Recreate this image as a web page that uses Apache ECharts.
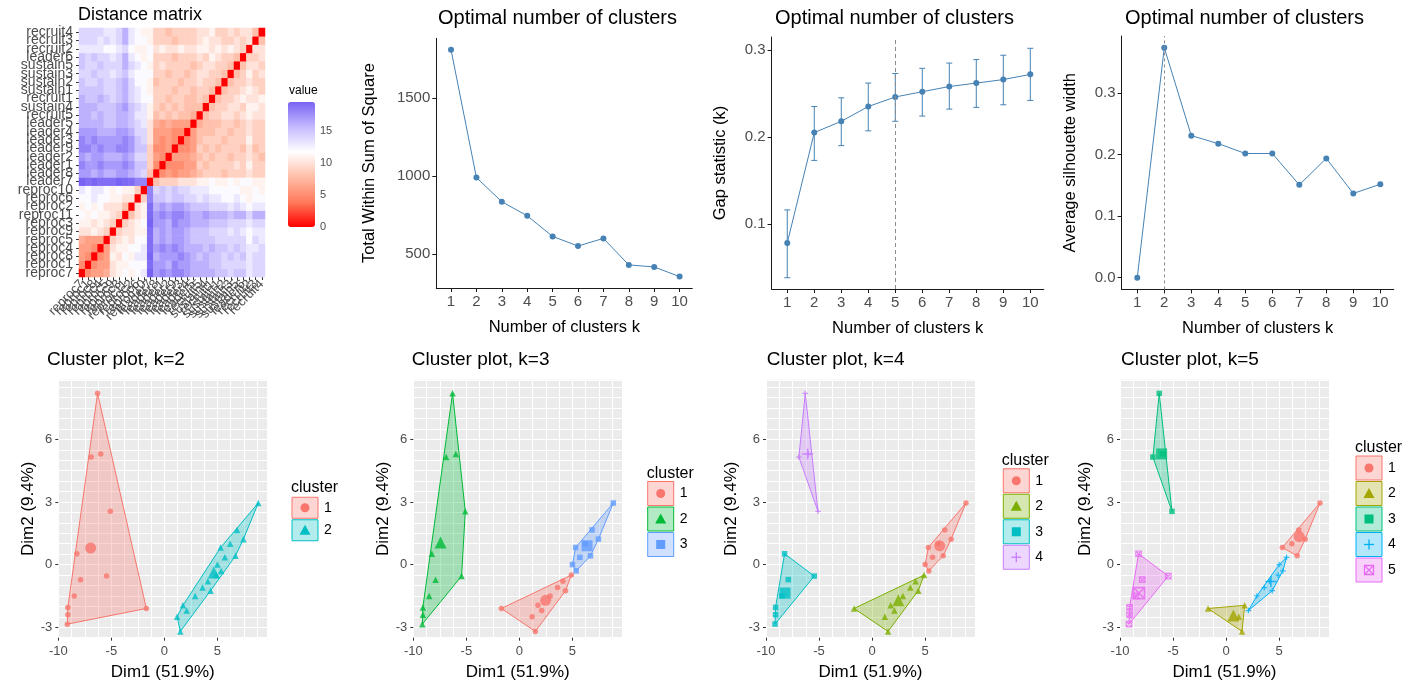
<!DOCTYPE html>
<html>
<head>
<meta charset="utf-8">
<script src="https://cdn.jsdelivr.net/npm/echarts@6.0.0/dist/echarts.min.js"></script>
<style>
html,body{margin:0;padding:0;background:#ffffff;}
#chart{width:1411px;height:689px;}
</style>
</head>
<body>
<div id="chart"></div>
<script>
// ================= DATA =================
// Distance matrix (index 0 = bottom row / left column)
const distLabels = ['reproc7','reproc1','reproc8','reproc4','reproc5','reproc9','reproc3','reproc11','reproc2','reproc6','reproc10',
  'leader7','leader8','leader1','leader2','leader9','leader3','leader4','leader5',
  'recruit5','sustain4','recruit1','sustain1','sustain2','sustain3','sustain5','leader6','recruit2','recruit3','recruit4'];
// lower triangle: row i holds distances to items 0..i-1
const distLower = [
 [],
 [5],
 [6,5],
 [6,6,5],
 [7,6,6,6],
 [10,10,11,10,9],
 [11,11,10,11,10,9],
 [12,11,12,11,11,10,9],
 [11,12,11,12,10,10,10,8],
 [12,12,13,12,12,11,11,10,10],
 [13,12,13,13,12,11,12,11,11,9],
 [19.5,19,19.4,19,19,19,19.5,19.2,19,18,18],
 [17,17,16,17,16,16,17,17,16,15,14, 8],
 [18,17,17,18,17,17,17,18,17,15,15, 9,5],
 [17,16,17,17,16,16,16,17,16,14,14, 9,6,5],
 [18,18,17,18,17,17,18,18,17,15,15, 9,5,5,6],
 [18,17,18,17,17,17,17,18,17,15,14, 10,6,5,6,5],
 [17,17,17,16,16,16,17,17,16,14,14, 10,6,6,6,5,5],
 [16,16,16,16,15,15,16,16,15,14,13, 10,7,6,7,6,6,6],
 [16,16,15,16,15,15,16,16,15,13,13, 11, 8,9,8,9,8,8,7],
 [16,16,16,15,15,15,16,17,15,14,13, 11, 9,8,9,8,9,8,8, 8],
 [16,15,15,16,15,14,15,16,14,13,12, 12, 9,9,8,9,9,8,8, 9,8],
 [15,15,15,15,14,14,15,16,14,13,12, 11, 9,9,9,8,9,9,8, 9,9,8],
 [15,14,14,15,14,14,15,16,14,12,12, 11, 8,9,9,9,8,9,9, 10,9,9,8],
 [14,14,15,14,14,13,14,15,13,12,12, 12, 9,9,8,9,9,8,9, 10,10,9,9,8],
 [15,14,14,15,14,14,14,16,14,13,12, 11, 9,10,9,9,9,9,8, 9,10,10,9,9,8],
 [15,14,15,14,14,13,14,16,13,12,11, 12, 9,9,9,8,9,9,9, 10,9,11,10,9,9,8],
 [13,13,13,13,12,12,13,14,12,11,11, 12, 10,11,10,10,11,10,10, 11,11,10,11,10,11,10,9],
 [14,14,14,13,14,13,14,16,13,12,12, 11, 9,9,9,8,9,9,9, 10,11,10,10,9,9,10,9,10],
 [14,14,14,14,13,13,14,16,13,12,11, 11, 9,9,8,9,9,9,9, 10,10,11,9,9,10,9,10,10,8]
];
const distScaleMax = 19.5;
const distLegendBreaks = [0, 5, 10, 15];

// Optimal number of clusters
const kValues = [1,2,3,4,5,6,7,8,9,10];
const wss = [1810, 990, 835, 745, 613, 551, 600, 430, 417, 355];
const wssTicks = [500, 1000, 1500];
const gapStat  = [0.078, 0.205, 0.218, 0.235, 0.246, 0.252, 0.258, 0.262, 0.266, 0.272];
const gapLower = [0.038, 0.173, 0.190, 0.207, 0.218, 0.224, 0.232, 0.234, 0.237, 0.242];
const gapUpper = [0.116, 0.235, 0.245, 0.262, 0.273, 0.279, 0.285, 0.289, 0.294, 0.302];
const gapTicks = [0.1, 0.2, 0.3];
const gapOptimalK = 5;
const silWidth = [0.000, 0.374, 0.231, 0.218, 0.202, 0.202, 0.151, 0.194, 0.137, 0.152];
const silTicks = [0.0, 0.1, 0.2, 0.3];
const silOptimalK = 2;

// PCA coordinates of the observations
const pcDim1 = [-6.3,-6.9,-6.0,-5.1,-8.25,-5.45,-7.9,-8.5,-9.1,-9.1,-9.15,-1.7,
  8.85,6.85,7.45,5.3,6.7,6.2,5.35,4.9,4.35,2.9,1.75,1.5,5.7,5.0,3.6,2.1,1.2,4.1];
const pcDim2 = [8.2,5.15,5.3,2.55,0.52,-0.55,-0.72,-1.5,-2.05,-2.4,-2.85,-2.1,
  2.95,1.66,1.22,0.82,0.42,1.0,-0.3,-0.5,-1.25,-1.5,-1.95,-3.2,0.35,0.0,-1.1,-2.2,-2.5,-0.8];
const clusterK2 = [1,1,1,1,1,1,1,1,1,1,1,1, 2,2,2,2,2,2,2,2,2,2,2,2,2,2,2,2,2,2];
const clusterK3 = [2,2,2,2,2,2,2,2,2,2,2,1, 3,3,3,3,3,3,3,1,1,1,1,1,3,3,1,1,1,1];
const clusterK4 = [4,4,4,4,3,3,3,3,3,3,3,2, 1,1,1,1,1,1,1,2,2,2,2,2,1,1,2,2,2,2];
const clusterK5 = [3,3,3,3,5,5,5,5,5,5,5,2, 1,1,1,1,1,1,4,4,4,4,2,2,4,4,4,4,2,4];
const dimTicksX = [-10, -5, 0, 5];
const dimTicksY = [-3, 0, 3, 6];

// ================= STYLE =================
const FONT = '"Liberation Sans", Arial, Helvetica, sans-serif';
const TXT = '#4D4D4D';
const AXC = '#1a1a1a';
const STEEL = '#4682B4';
const distColorStops = ['#FF0000','#FF7B5C','#FFBDA7','#FFFFFF','#C5BAFF','#7763F3'];
const palettes = {
  2: ['#F8766D','#00BFC4'],
  3: ['#F8766D','#00BA38','#619CFF'],
  4: ['#F8766D','#7CAE00','#00BFC4','#C77CFF'],
  5: ['#F8766D','#A3A500','#00BF7D','#00B0F6','#E76BF3']
};
const shapeSymbols = {1:'circle', 2:'triangle', 3:'rect', 4:'path://M5,0L5,10M0,5L10,5', 5:'path://M0,0L10,0L10,10L0,10ZM0,0L10,10M10,0L0,10'};

function rgba(hex, a) {
  const n = parseInt(hex.slice(1), 16);
  return 'rgba(' + ((n >> 16) & 255) + ',' + ((n >> 8) & 255) + ',' + (n & 255) + ',' + a + ')';
}

const option = {
  animation: false,
  backgroundColor: '#ffffff',
  textStyle: { fontFamily: FONT },
  title: [], grid: [], xAxis: [], yAxis: [], series: [], graphic: [], visualMap: []
};

function addTitle(text, left, top, size) {
  option.title.push({ text, left, top, padding: 0,
    textStyle: { fontSize: size, fontWeight: 'normal', color: '#000', fontFamily: FONT } });
}

// ================= DISTANCE MATRIX =================
addTitle('Distance matrix', 78, 6, 18);
option.grid.push({ left: 79, top: 28, width: 186, height: 249 });
option.xAxis.push({ gridIndex: 0, type: 'category', data: distLabels,
  axisLine: { show: false }, axisTick: { show: true, length: 3, alignWithLabel: true, lineStyle: { color: '#333' } },
  axisLabel: { interval: 0, rotate: 45, fontSize: 13, color: TXT, margin: 5, fontFamily: FONT },
  splitLine: { show: false } });
option.yAxis.push({ gridIndex: 0, type: 'category', data: distLabels,
  axisLine: { show: false }, axisTick: { show: true, length: 3, alignWithLabel: true, lineStyle: { color: '#333' } },
  axisLabel: { interval: 0, fontSize: 14, color: TXT, margin: 6, fontFamily: FONT },
  splitLine: { show: false } });
const heatData = [];
for (let i = 0; i < distLabels.length; i++) {
  for (let j = 0; j < distLabels.length; j++) {
    const v = i === j ? 0 : (j < i ? distLower[i][j] : distLower[j][i]);
    heatData.push([j, i, v]);
  }
}
option.series.push({ type: 'heatmap', xAxisIndex: 0, yAxisIndex: 0, data: heatData, silent: true });
option.visualMap.push({ type: 'continuous', seriesIndex: 0, min: 0, max: distScaleMax, calculable: false,
  hoverLink: false, orient: 'vertical', left: 288, top: 102, itemWidth: 27, itemHeight: 125, padding: 0,
  inRange: { color: distColorStops } });
option.graphic.push({ type: 'text', left: 289, top: 85, style: { text: 'value', fontSize: 12, fill: '#000', fontFamily: FONT } });
distLegendBreaks.forEach(b => {
  option.graphic.push({ type: 'text', x: 320, y: 227 - b * 125 / distScaleMax,
    style: { text: String(b), fontSize: 11, fill: TXT, fontFamily: FONT, verticalAlign: 'middle', align: 'left' } });
});

// ================= OPTIMAL K PLOTS =================
const topPlots = [
  { titleLeft: 438, left: 436.3, top: 38.3, width: 256, height: 249.7, yMin: 282, yMax: 1883, yTicks: wssTicks,
    yFmt: v => String(v), yName: 'Total Within Sum of Square', yNameGap: 58, values: wss },
  { titleLeft: 775, left: 771.6, top: 37, width: 272.2, height: 252, yMin: 0.025, yMax: 0.315, yTicks: gapTicks,
    yFmt: v => Number(v).toFixed(1), yName: 'Gap statistic (k)', yNameGap: 43, values: gapStat, optimal: gapOptimalK, err: true },
  { titleLeft: 1125, left: 1121.6, top: 36, width: 272.2, height: 253.4, yMin: -0.019, yMax: 0.393, yTicks: silTicks,
    yFmt: v => Number(v).toFixed(1), yName: 'Average silhouette width', yNameGap: 43, values: silWidth, optimal: silOptimalK, dotted: true }
];
topPlots.forEach((p, n) => {
  const gi = option.grid.length;
  addTitle('Optimal number of clusters', p.titleLeft, 8, 20);
  option.grid.push({ left: p.left, top: p.top, width: p.width, height: p.height });
  const xi = option.xAxis.length, yi = option.yAxis.length;
  option.xAxis.push({ gridIndex: gi, type: 'value', min: 0.42, max: 10.5,
    axisLine: { show: true, onZero: false, lineStyle: { color: AXC, width: 1 } },
    axisTick: { show: true, length: 4, customValues: kValues, lineStyle: { color: AXC } },
    axisLabel: { customValues: kValues, fontSize: 15, color: TXT, margin: 6, fontFamily: FONT },
    splitLine: { show: false },
    name: 'Number of clusters k', nameLocation: 'middle', nameGap: 31,
    nameTextStyle: { fontSize: 16.5, color: '#000', fontFamily: FONT } });
  option.yAxis.push({ gridIndex: gi, type: 'value', min: p.yMin, max: p.yMax,
    axisLine: { show: true, onZero: false, lineStyle: { color: AXC, width: 1 } },
    axisTick: { show: true, length: 4, customValues: p.yTicks, lineStyle: { color: AXC } },
    axisLabel: { customValues: p.yTicks, formatter: p.yFmt, fontSize: 15, color: TXT, margin: 6, fontFamily: FONT },
    splitLine: { show: false },
    name: p.yName, nameLocation: 'middle', nameRotate: 90, nameGap: p.yNameGap,
    nameTextStyle: { fontSize: 16.5, color: '#000', fontFamily: FONT } });
  if (p.err) {
    option.series.push({ type: 'custom', xAxisIndex: xi, yAxisIndex: yi, silent: true, z: 3,
      data: kValues.map((k, i) => [k, gapLower[i], gapUpper[i]]),
      encode: { x: 0, y: [1, 2] },
      renderItem: function (params, api) {
        const lo = api.coord([api.value(0), api.value(1)]);
        const hi = api.coord([api.value(0), api.value(2)]);
        const w = 3;
        const st = { stroke: STEEL, lineWidth: 1 };
        return { type: 'group', children: [
          { type: 'line', shape: { x1: lo[0], y1: lo[1], x2: hi[0], y2: hi[1] }, style: st },
          { type: 'line', shape: { x1: lo[0] - w, y1: lo[1], x2: lo[0] + w, y2: lo[1] }, style: st },
          { type: 'line', shape: { x1: hi[0] - w, y1: hi[1], x2: hi[0] + w, y2: hi[1] }, style: st }
        ] };
      } });
  }
  const s = { type: 'line', xAxisIndex: xi, yAxisIndex: yi, silent: true, z: 4,
    data: kValues.map((k, i) => [k, p.values[i]]),
    symbol: 'circle', symbolSize: 6, showSymbol: true,
    itemStyle: { color: STEEL }, lineStyle: { color: STEEL, width: 1 } };
  if (p.optimal) {
    s.markLine = { silent: true, symbol: 'none', label: { show: false },
      lineStyle: { color: '#8c8c8c', type: p.dotted ? [3, 3] : [4, 3], width: 1 },
      data: [{ xAxis: p.optimal }] };
  }
  option.series.push(s);
});

// ================= CLUSTER PLOTS =================
function convexHull(pts) {
  const p = pts.slice().sort((a, b) => a[0] - b[0] || a[1] - b[1]);
  if (p.length < 3) return p;
  const cross = (o, a, b) => (a[0] - o[0]) * (b[1] - o[1]) - (a[1] - o[1]) * (b[0] - o[0]);
  const lower = [];
  for (const q of p) { while (lower.length >= 2 && cross(lower[lower.length - 2], lower[lower.length - 1], q) <= 0) lower.pop(); lower.push(q); }
  const upper = [];
  for (let i = p.length - 1; i >= 0; i--) { const q = p[i]; while (upper.length >= 2 && cross(upper[upper.length - 2], upper[upper.length - 1], q) <= 0) upper.pop(); upper.push(q); }
  upper.pop(); lower.pop();
  return lower.concat(upper);
}

function legendShape(c, cx, cy, color) {
  const r = 5;
  if (c === 1) return [{ type: 'circle', shape: { cx, cy, r: 4.5 }, style: { fill: color } }];
  if (c === 2) return [{ type: 'polygon', shape: { points: [[cx, cy - 5.5], [cx + 5.5, cy + 4.5], [cx - 5.5, cy + 4.5]] }, style: { fill: color } }];
  if (c === 3) return [{ type: 'rect', shape: { x: cx - 4.5, y: cy - 4.5, width: 9, height: 9 }, style: { fill: color } }];
  if (c === 4) return [
    { type: 'line', shape: { x1: cx - r, y1: cy, x2: cx + r, y2: cy }, style: { stroke: color, lineWidth: 1.3 } },
    { type: 'line', shape: { x1: cx, y1: cy - r, x2: cx, y2: cy + r }, style: { stroke: color, lineWidth: 1.3 } }];
  return [
    { type: 'rect', shape: { x: cx - 4.5, y: cy - 4.5, width: 9, height: 9 }, style: { fill: 'none', stroke: color, lineWidth: 1.3 } },
    { type: 'line', shape: { x1: cx - 4.5, y1: cy - 4.5, x2: cx + 4.5, y2: cy + 4.5 }, style: { stroke: color, lineWidth: 1.3 } },
    { type: 'line', shape: { x1: cx + 4.5, y1: cy - 4.5, x2: cx - 4.5, y2: cy + 4.5 }, style: { stroke: color, lineWidth: 1.3 } }];
}

const clusterPanels = [
  { k: 2, assign: clusterK2, left: 58.3, titleLeft: 47, yNameGap: 17, legTitle: 291, legBox: 292, pitch: 22.5 },
  { k: 3, assign: clusterK3, left: 413.3, titleLeft: 411.7, yNameGap: 20, legTitle: 646.7, legBox: 647.7, pitch: 25.5 },
  { k: 4, assign: clusterK4, left: 766, titleLeft: 766.7, yNameGap: 26, legTitle: 1001.7, legBox: 1003.3, pitch: 25.5 },
  { k: 5, assign: clusterK5, left: 1120, titleLeft: 1121, yNameGap: 26, legTitle: 1355, legBox: 1356, pitch: 25.5 }
];
const cpTop = 379.8, cpHeight = 257.9, cpWidth = 209;

clusterPanels.forEach(p => {
  const gi = option.grid.length;
  const pal = palettes[p.k];
  addTitle('Cluster plot, k=' + p.k, p.titleLeft, 350.5, 19);
  option.grid.push({ left: p.left, top: cpTop, width: cpWidth, height: cpHeight, show: true,
    backgroundColor: '#EBEBEB', borderWidth: 0 });
  const xi = option.xAxis.length, yi = option.yAxis.length;
  // main axes (labels + ticks)
  option.xAxis.push({ gridIndex: gi, type: 'value', min: -10, max: 9.7, position: 'bottom',
    axisLine: { show: false, onZero: false },
    axisTick: { show: true, length: 3, customValues: dimTicksX, lineStyle: { color: '#333' } },
    axisLabel: { customValues: dimTicksX, fontSize: 13, color: TXT, margin: 7, fontFamily: FONT },
    splitLine: { show: false },
    name: 'Dim1 (51.9%)', nameLocation: 'middle', nameGap: 26,
    nameTextStyle: { fontSize: 17, color: '#000', fontFamily: FONT } });
  option.yAxis.push({ gridIndex: gi, type: 'value', min: -3.5, max: 8.85, position: 'left',
    axisLine: { show: false, onZero: false },
    axisTick: { show: true, length: 3, customValues: dimTicksY, lineStyle: { color: '#333' } },
    axisLabel: { customValues: dimTicksY, fontSize: 13, color: TXT, margin: 6, fontFamily: FONT },
    splitLine: { show: false },
    name: 'Dim2 (9.4%)', nameLocation: 'middle', nameRotate: 90, nameGap: p.yNameGap,
    nameTextStyle: { fontSize: 17, color: '#000', fontFamily: FONT } });
  // grid-line axes
  option.xAxis.push({ gridIndex: gi, type: 'value', min: -10, max: 9.7, interval: 1.25, position: 'top',
    axisLine: { show: false, onZero: false }, axisTick: { show: false }, axisLabel: { show: false },
    splitLine: { show: true, lineStyle: { color: '#FFFFFF', width: 1 } } });
  option.yAxis.push({ gridIndex: gi, type: 'value', min: -3.5, max: 8.85, interval: 0.5, position: 'right',
    axisLine: { show: false, onZero: false }, axisTick: { show: false }, axisLabel: { show: false },
    splitLine: { show: true, lineStyle: { color: '#FFFFFF', width: 1 } } });

  for (let c = 1; c <= p.k; c++) {
    const color = pal[c - 1];
    const pts = [];
    p.assign.forEach((a, i) => { if (a === c) pts.push([pcDim1[i], pcDim2[i]]); });
    const hull = convexHull(pts);
    const cx = pts.reduce((s, q) => s + q[0], 0) / pts.length;
    const cy = pts.reduce((s, q) => s + q[1], 0) / pts.length;
    option.series.push({ type: 'custom', xAxisIndex: xi, yAxisIndex: yi, silent: true, z: 2,
      data: [[cx, cy]],
      renderItem: function (params, api) {
        const poly = hull.map(q => api.coord(q));
        return { type: 'polygon', shape: { points: poly },
          style: { fill: rgba(color, 0.3), stroke: color, lineWidth: 1 } };
      } });
    const outline = (c >= 4);
    const iStyle = outline ? { color: 'rgba(0,0,0,0)', borderColor: color, borderWidth: 1.2 } : { color: color };
    option.series.push({ type: 'scatter', xAxisIndex: xi, yAxisIndex: yi, silent: true, z: 4,
      data: pts, symbol: shapeSymbols[c], symbolSize: c === 2 ? 6.5 : 5.5, itemStyle: iStyle });
    option.series.push({ type: 'scatter', xAxisIndex: xi, yAxisIndex: yi, silent: true, z: 5,
      data: [[cx, cy]], symbol: shapeSymbols[c], symbolSize: c === 2 ? 12 : 11,
      itemStyle: outline ? { color: 'rgba(0,0,0,0)', borderColor: color, borderWidth: 1.6 } : { color: color } });
  }
  // legend
  const T = 509 - (20 + (p.k - 1) * p.pitch) / 2;
  option.graphic.push({ type: 'text', x: p.legTitle, y: T,
    style: { text: 'cluster', fontSize: 16, fill: '#000', fontFamily: FONT, verticalAlign: 'middle', align: 'left' } });
  for (let c = 1; c <= p.k; c++) {
    const color = pal[c - 1];
    const ky = T + 20 + (c - 1) * p.pitch;
    const bw = 26, bh = p.pitch - 1.5;
    option.graphic.push({ type: 'rect', shape: { x: p.legBox, y: ky - bh / 2, width: bw, height: bh },
      style: { fill: rgba(color, 0.3), stroke: color, lineWidth: 1 } });
    legendShape(c, p.legBox + bw / 2, ky, color).forEach(g => option.graphic.push(g));
    option.graphic.push({ type: 'text', x: p.legBox + bw + 6, y: ky,
      style: { text: String(c), fontSize: 14, fill: '#000', fontFamily: FONT, verticalAlign: 'middle', align: 'left' } });
  }
});

const chart = echarts.init(document.getElementById('chart'), null, { renderer: 'canvas' });
chart.setOption(option);
</script>
</body>
</html>
